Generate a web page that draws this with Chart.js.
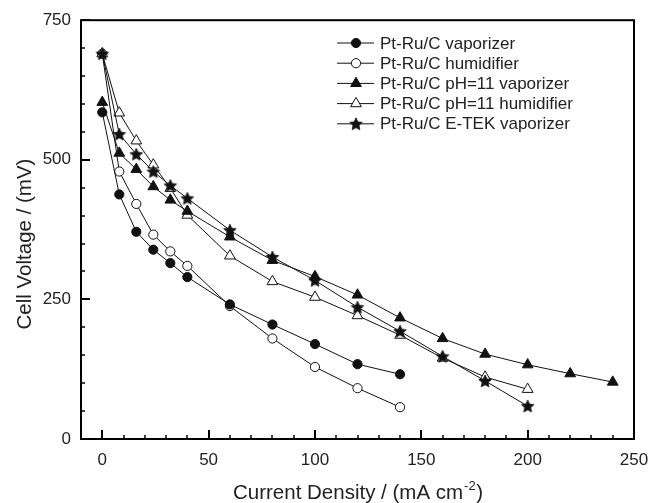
<!DOCTYPE html>
<html>
<head>
<meta charset="utf-8">
<script src="https://cdn.jsdelivr.net/npm/chart.js@4.4.1/dist/chart.umd.min.js"></script>
<style>
  html, body { margin: 0; padding: 0; background: #fff; }
  #wrap { width: 662px; height: 503px; }
</style>
</head>
<body>
<div id="wrap"><canvas id="chart" width="662" height="503"></canvas></div>
<script>
// current density (mA cm-2)
const xShort = [0, 8, 16, 24, 32, 40, 60, 80, 100, 120, 140];
const xMid = [0, 8, 16, 24, 32, 40, 60, 80, 100, 120, 140, 160, 180, 200];
const xLong = [0, 8, 16, 24, 32, 40, 60, 80, 100, 120, 140, 160, 180, 200, 220, 240];

// cell voltage (mV)
const vaporizerY = [585, 438, 371, 339, 315, 290, 241, 205, 170, 134, 116];
const humidifierY = [690, 479, 421, 366, 336, 310, 238, 180, 129, 91, 57];
const ph11VaporizerY = [603, 512, 483, 452, 428, 408, 362, 320, 291, 258, 217, 180, 152, 133, 117, 102];
const ph11HumidifierY = [690, 584, 534, 491, 449, 401, 328, 282, 254, 221, 186, 145, 111, 89];
const etekVaporizerY = [690, 546, 510, 479, 454, 431, 374, 326, 284, 236, 193, 148, 104, 59];

const seriesNames = [
  "Pt-Ru/C vaporizer",
  "Pt-Ru/C humidifier",
  "Pt-Ru/C pH=11 vaporizer",
  "Pt-Ru/C pH=11 humidifier",
  "Pt-Ru/C E-TEK vaporizer",
];

const xTicks = [0, 50, 100, 150, 200, 250];
const yTicks = [0, 250, 500, 750];

const FONT = "'Liberation Sans', Arial, Helvetica, sans-serif";
const INK = "#111";

function makeStar(r) {
  const c = document.createElement("canvas");
  const s = Math.ceil(r * 2 + 2);
  c.width = s;
  c.height = s;
  const g = c.getContext("2d");
  g.fillStyle = INK;
  g.strokeStyle = INK;
  g.lineWidth = 0.8;
  g.beginPath();
  for (let i = 0; i < 10; i++) {
    const rr = i % 2 ? r * 0.47 : r;
    const a = -Math.PI / 2 + (i * Math.PI) / 5;
    g.lineTo(s / 2 + rr * Math.cos(a), s / 2 + 0.6 + rr * Math.sin(a));
  }
  g.closePath();
  g.fill();
  g.stroke();
  return c;
}
const starImg = makeStar(6.6);

const markers = [
  { style: "circle", radius: 4.6, fill: INK },
  { style: "circle", radius: 4.6, fill: "#fff" },
  { style: "triangle", radius: 6.2, fill: INK },
  { style: "triangle", radius: 6.2, fill: "#fff" },
  { style: starImg, radius: 6, fill: INK },
];
const drawOrder = [1, 4, 2, 3, 0];

function pts(xs, ys) {
  return xs.map((x, i) => ({ x: x, y: ys[i] }));
}

const seriesData = [
  pts(xShort, vaporizerY),
  pts(xShort, humidifierY),
  pts(xLong, ph11VaporizerY),
  pts(xMid, ph11HumidifierY),
  pts(xMid, etekVaporizerY),
];

const datasets = seriesData.map((d, i) => ({
  label: seriesNames[i],
  data: d,
  order: drawOrder[i],
  showLine: true,
  borderColor: INK,
  borderWidth: 1,
  pointStyle: markers[i].style,
  pointRadius: markers[i].radius,
  pointBackgroundColor: markers[i].fill,
  pointBorderColor: INK,
  pointBorderWidth: 1,
}));

function drawMarker(ctx, m, x, y) {
  ctx.save();
  ctx.fillStyle = m.fill;
  ctx.strokeStyle = INK;
  ctx.lineWidth = 1;
  if (m.style === "circle") {
    ctx.beginPath();
    ctx.arc(x, y, m.radius, 0, Math.PI * 2);
    ctx.fill();
    ctx.stroke();
  } else if (m.style === "triangle") {
    let rad = 0;
    ctx.beginPath();
    for (let k = 0; k < 3; k++) {
      ctx.lineTo(x + Math.sin(rad) * m.radius, y - Math.cos(rad) * m.radius);
      rad += (2 * Math.PI) / 3;
    }
    ctx.closePath();
    ctx.fill();
    ctx.stroke();
  } else {
    ctx.drawImage(m.style, x - m.style.width / 2, y - m.style.height / 2);
  }
  ctx.restore();
}

const framePlugin = {
  id: "frame",
  beforeDatasetsDraw(chart) {
    const { ctx, chartArea: a, scales } = chart;
    ctx.save();
    ctx.strokeStyle = "#000";
    ctx.lineWidth = 2;
    ctx.strokeRect(a.left, a.top, a.right - a.left, a.bottom - a.top);
    // inward ticks
    for (let v = -10; v <= 250; v += 10) {
      const px = Math.round(scales.x.getPixelForValue(v));
      const len = v % 50 === 0 ? 9 : 4;
      ctx.lineWidth = v % 50 === 0 ? 2 : 1.5;
      ctx.beginPath();
      ctx.moveTo(px, a.bottom);
      ctx.lineTo(px, a.bottom - len);
      ctx.stroke();
    }
    for (let v = 0; v <= 750; v += 50) {
      const py = Math.round(scales.y.getPixelForValue(v));
      const len = v % 250 === 0 ? 9 : 4;
      ctx.lineWidth = v % 250 === 0 ? 2 : 1.5;
      ctx.beginPath();
      ctx.moveTo(a.left, py);
      ctx.lineTo(a.left + len, py);
      ctx.stroke();
    }
    ctx.restore();
  },
  afterDraw(chart) {
    const { ctx } = chart;
    ctx.save();
    // legend
    ctx.font = "17px " + FONT;
    ctx.textBaseline = "middle";
    seriesNames.forEach((name, i) => {
      const y = 43 + i * 20.2;
      ctx.strokeStyle = INK;
      ctx.lineWidth = 1;
      ctx.beginPath();
      ctx.moveTo(337, y);
      ctx.lineTo(374, y);
      ctx.stroke();
      drawMarker(ctx, markers[i], 356, y);
      ctx.fillStyle = "#222";
      ctx.fillText(name, 380, y + 1);
    });

    // axis titles
    ctx.fillStyle = "#222";
    ctx.textBaseline = "alphabetic";
    ctx.font = "20.5px " + FONT;
    ctx.save();
    ctx.translate(31, 244);
    ctx.rotate(-Math.PI / 2);
    ctx.textAlign = "center";
    ctx.fillText("Cell Voltage / (mV)", 0, 0);
    ctx.restore();

    const main = "Current Density / (mA cm";
    let x = 233;
    const base = 499;
    ctx.textAlign = "left";
    ctx.fillText(main, x, base);
    x += ctx.measureText(main).width;
    ctx.font = "13px " + FONT;
    ctx.fillText("-2", x + 1, base - 9);
    x += ctx.measureText("-2").width + 1.5;
    ctx.font = "20.5px " + FONT;
    ctx.fillText(")", x, base);
    ctx.restore();
  },
};

new Chart(document.getElementById("chart").getContext("2d"), {
  type: "scatter",
  data: { datasets: datasets },
  options: {
    responsive: false,
    animation: false,
    devicePixelRatio: 1,
    layout: { padding: { top: 19, right: 28, left: 0, bottom: 0 } },
    plugins: {
      legend: { display: false },
      tooltip: { enabled: false },
    },
    scales: {
      x: {
        type: "linear",
        min: -10,
        max: 250,
        afterBuildTicks: (s) => {
          s.ticks = xTicks.map((v) => ({ value: v }));
        },
        afterFit: (s) => {
          s.height = 64;
        },
        grid: { display: false, drawTicks: false },
        border: { display: false },
        ticks: { padding: 11, color: "#222", font: { family: FONT, size: 17 } },
      },
      y: {
        type: "linear",
        min: 0,
        max: 750,
        afterBuildTicks: (s) => {
          s.ticks = yTicks.map((v) => ({ value: v }));
        },
        afterFit: (s) => {
          s.width = 81;
        },
        grid: { display: false, drawTicks: false },
        border: { display: false },
        ticks: { padding: 10, color: "#222", font: { family: FONT, size: 17 } },
      },
    },
  },
  plugins: [framePlugin],
});
</script>
</body>
</html>
